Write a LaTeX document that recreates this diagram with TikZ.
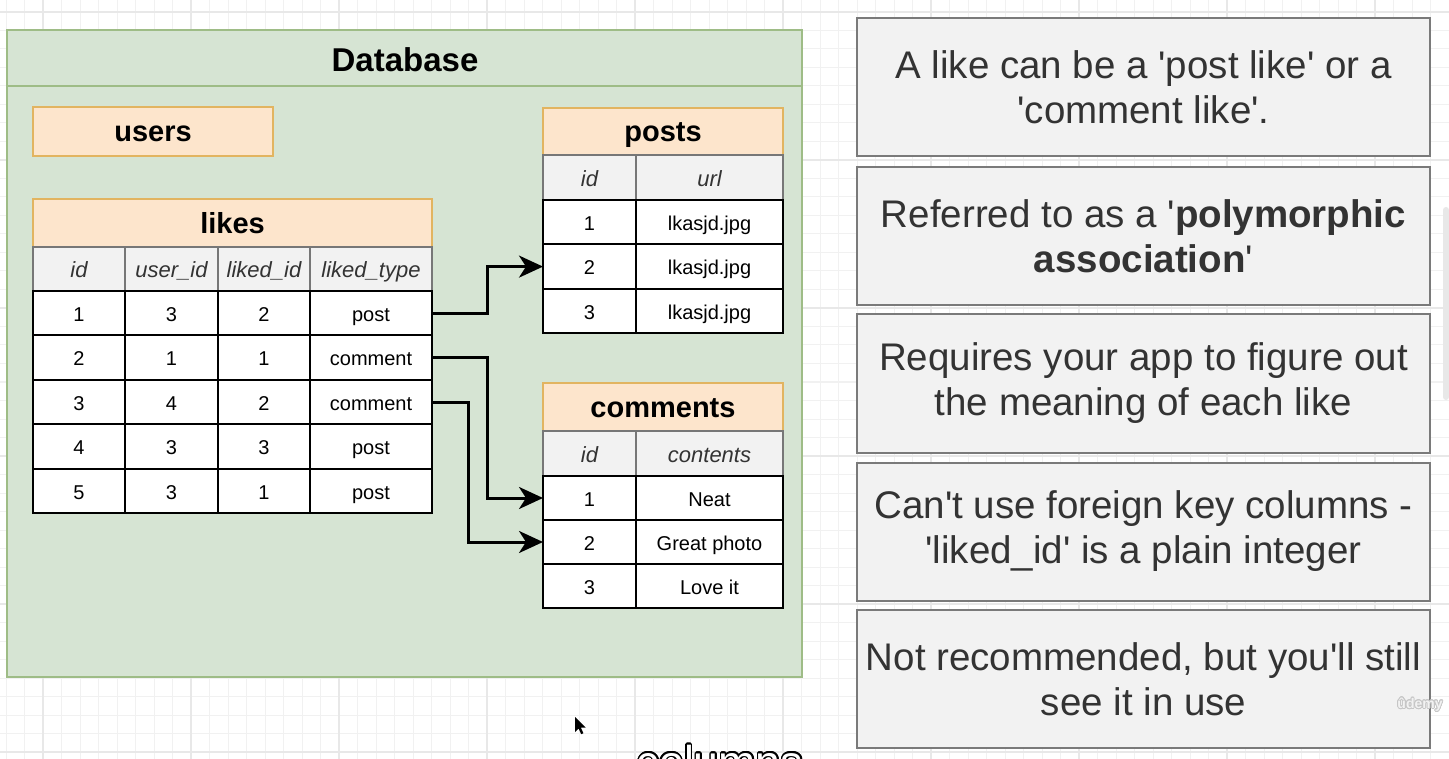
\documentclass[tikz,border=0pt]{standalone}
\usepackage{fontspec}
\setmainfont{Liberation Sans}[Ligatures=TeXOff]
\usepackage{contour}
\usetikzlibrary{arrows.meta}

\definecolor{dbfill}{HTML}{D6E4D3}
\definecolor{dbline}{HTML}{9EBC86}
\definecolor{hdfill}{HTML}{FDE5CC}
\definecolor{hdline}{HTML}{E2B460}
\definecolor{colfill}{HTML}{F2F2F2}
\definecolor{colline}{HTML}{777777}
\definecolor{notefill}{HTML}{F2F2F2}
\definecolor{noteline}{HTML}{7A7A7A}
\definecolor{notetext}{HTML}{333333}
\definecolor{gridminor}{HTML}{F1F1F1}
\definecolor{gridmajor}{HTML}{E8E8E8}

\tikzset{
  base/.style={rectangle, inner sep=0pt, outer sep=0pt, anchor=north west},
  tablehead/.style={base, fill=hdfill, draw=hdline, line width=1.6pt,
    text height=20.5pt, text depth=0pt,
    font=\fontsize{29}{34}\selectfont\bfseries},
  colhead/.style={base, fill=colfill, draw=colline, line width=1.6pt,
    text height=17.2pt, text depth=0pt,
    text=notetext, font=\fontsize{22}{26}\selectfont\itshape},
  cell/.style={base, fill=white, draw=black, line width=2pt,
    text height=16.6pt, text depth=0pt,
    font=\fontsize{20}{24}\selectfont},
  note/.style={rectangle, fill=notefill, draw=noteline, line width=2pt,
    minimum width=573pt, minimum height=138pt, align=center, text=notetext,
    inner sep=0pt, font=\fontsize{38.5}{45}\selectfont},
  link/.style={line width=3pt, -{Stealth[length=24pt,width=22pt,inset=7pt]}},
}

\begin{document}
\begin{tikzpicture}[x=1pt, y=-1pt]
\useasboundingbox (0,0) rectangle (1449,759);
\clip (0,0) rectangle (1449,759);
\fill[white] (0,0) rectangle (1449,759);

% background grid
\foreach \i in {0,...,78} {\draw[gridminor, line width=1pt] ({6+18.5*\i},0) -- ++(0,759);}
\foreach \j in {0,...,41} {\draw[gridminor, line width=1pt] (0,{12+18.5*\j}) -- ++(1449,0);}
\foreach \i in {0,...,9} {\draw[gridmajor, line width=1.3pt] ({43+148*\i},0) -- ++(0,759);}
\foreach \j in {0,...,5} {\draw[gridmajor, line width=1.3pt] (0,{12+148*\j}) -- ++(1449,0);}

% database container
\node[base, fill=dbfill, draw=dbline, line width=2pt,
      minimum width=795pt, minimum height=647pt] (db) at (7,30) {};
\draw[dbline, line width=2pt] (7,86) -- (802,86);
\node[font=\fontsize{33}{38}\selectfont\bfseries] (dbtitle) at (405,60) {Database};

% users
\node[tablehead, minimum width=240pt, minimum height=49pt] (users) at (33,107) {users};

% likes
\node[tablehead, minimum width=399pt, minimum height=48pt] (likes) at (33,199) {likes};
\node[colhead, minimum width=92pt, minimum height=44pt] (likes-h1) at (33,247) {id};
\node[colhead, minimum width=93pt, minimum height=44pt] (likes-h2) at (125,247) {user\_id};
\node[colhead, minimum width=92pt, minimum height=44pt] (likes-h3) at (218,247) {liked\_id};
\node[colhead, minimum width=122pt, minimum height=44pt] (likes-h4) at (310,247) {liked\_type};
\foreach \r/\a/\b/\c/\d in {1/1/3/2/post, 2/2/1/1/comment, 3/3/4/2/comment, 4/4/3/3/post, 5/5/3/1/post} {
  \pgfmathsetmacro{\yy}{291+44.4*(\r-1)}
  \node[cell, minimum width=92pt, minimum height=44.4pt] (likes-\r-1) at (33,\yy) {\a};
  \node[cell, minimum width=93pt, minimum height=44.4pt] (likes-\r-2) at (125,\yy) {\b};
  \node[cell, minimum width=92pt, minimum height=44.4pt] (likes-\r-3) at (218,\yy) {\c};
  \node[cell, minimum width=122pt, minimum height=44.4pt] (likes-\r-4) at (310,\yy) {\d};
}

% posts
\node[tablehead, minimum width=240pt, minimum height=47pt] (posts) at (543,108) {posts};
\node[colhead, minimum width=93pt, minimum height=45pt] (posts-h1) at (543,155) {id};
\node[colhead, minimum width=147pt, minimum height=45pt] (posts-h2) at (636,155) {url};
\foreach \r/\a/\b in {1/1/lkasjd.jpg, 2/2/lkasjd.jpg, 3/3/lkasjd.jpg} {
  \pgfmathsetmacro{\yy}{200+44.4*(\r-1)}
  \node[cell, minimum width=93pt, minimum height=44.4pt] (posts-\r-1) at (543,\yy) {\a};
  \node[cell, minimum width=147pt, minimum height=44.4pt] (posts-\r-2) at (636,\yy) {\b};
}

% comments
\node[tablehead, minimum width=240pt, minimum height=48pt] (comments) at (543,383) {comments};
\node[colhead, minimum width=93pt, minimum height=45pt] (comments-h1) at (543,431) {id};
\node[colhead, minimum width=147pt, minimum height=45pt] (comments-h2) at (636,431) {contents};
\foreach \r/\a/\b in {1/1/Neat, 2/2/Great photo, 3/3/Love it} {
  \pgfmathsetmacro{\yy}{476+44*(\r-1)}
  \node[cell, minimum width=93pt, minimum height=44pt] (comments-\r-1) at (543,\yy) {\a};
  \node[cell, minimum width=147pt, minimum height=44pt] (comments-\r-2) at (636,\yy) {\b};
}

% polymorphic links
\draw[link] (likes-1-4.east) -- ++(55,0) |- (posts-2-1.west);
\draw[link] (likes-2-4.east) -- ++(55,0) |- (comments-1-1.west);
\draw[link] (likes-3-4.east) -- ++(36,0) |- (comments-2-1.west);

% notes
\node[note] (n1) at (1143.5,87.5) {A like can be a 'post like' or a\\'comment like'.};
\node[note] (n2) at (1143.5,236) {Referred to as a '\textbf{polymorphic}\\\textbf{association}'};
\node[note] (n3) at (1143.5,383.5) {Requires your app to figure out\\the meaning of each like};
\node[note] (n4) at (1143.5,531.5) {Can't use foreign key columns -\\'liked\_id' is a plain integer};
\node[note] (n5) at (1143.5,679) {Not recommended, but you'll still\\see it in use};

% scrollbar
\fill[gridmajor, rounded corners=3pt] (1443,207) rectangle (1449,400);

% watermark
\contourlength{0.8pt}
\node[font=\fontsize{14}{16}\selectfont\bfseries] (mark) at (1420,705)
  {\contour{gray!45}{\textcolor{notefill}{ûdemy}}};

% pointer
\fill[black] (575,717) -- (575,732) -- (578.6,728.6) -- (581.2,734.2) -- (583.4,733.2)
  -- (580.9,727.7) -- (585.6,727.5) -- cycle;

% caption
\contourlength{1.4pt}
\node[anchor=base, font=\fontsize{44.6}{50}\selectfont] (cap) at (720,777)
  {\contour{black}{\textcolor{white}{columns}}};
\end{tikzpicture}
\end{document}
